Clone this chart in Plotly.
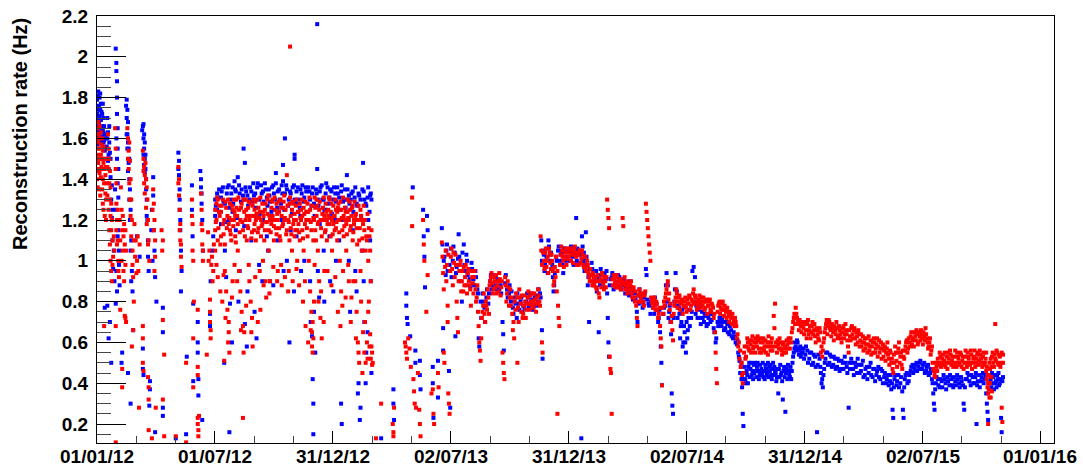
import pandas as pd
import plotly.graph_objects as go

START = pd.Timestamp("2012-01-01")

# (days since 01/01/12, reconstruction rate in Hz)
blue_2012_h1 = [
    (0, 1.72), (0, 1.64), (0, 1.79), (1, 1.81), (1, 1.69), (1, 1.6), (2, 1.83), (2, 1.74), (2, 1.66),
    (3, 1.76), (3, 1.68), (3, 1.58), (4, 1.8), (4, 1.71), (5, 1.74), (5, 1.63), (6, 1.69), (6, 1.77),
    (7, 1.65), (7, 1.57), (8, 1.72), (8, 1.61), (9, 1.64), (10, 1.58), (10, 1.7), (11, 1.66), (12, 1.54),
    (12, 1.62), (13, 1.6), (14, 1.5), (12, 0.77),
    (15, 1.56), (16, 1.7), (17, 1.63), (17, 1.49), (18, 1.45), (19, 1.58), (20, 1.53), (21, 1.41),
    (22, 1.3), (23, 1.21), (24, 1.1), (25, 0.96), (16, 0.78), (18, 0.62), (20, 0.7), (22, 0.5),
    (29, 2.04), (30, 1.97), (30, 1.93), (31, 1.88), (31, 1.8), (31, 1.72), (32, 1.65), (32, 1.55),
    (33, 1.45), (33, 1.31), (34, 1.2), (34, 1.05), (30, 0.95), (31, 0.85), (32, 1.12), (29, 0.79),
    (28, 1.35), (29, 1.25), (39, 0.55), (38, 0.5),
    (45, 1.76), (46, 1.79), (46, 1.7), (47, 1.74), (47, 1.62), (48, 1.68), (48, 1.58), (49, 1.55),
    (49, 1.48), (50, 1.5), (50, 1.4), (51, 1.35), (52, 1.25), (53, 1.1), (54, 0.95), (55, 0.85),
    (56, 0.66), (48, 0.45), (52, 0.3),
    (62, 1.12), (66, 1.02), (70, 1.64), (72, 1.67), (72, 1.6), (73, 1.62), (73, 1.55), (74, 1.58),
    (74, 1.5), (75, 1.52), (75, 1.45), (76, 1.4), (77, 1.3), (78, 1.2), (79, 1.1), (80, 0.95),
    (71, 0.57), (71, 0.47), (72, 0.44), (82, 0.41), (82, 0.37), (81, 0.29),
    (85, 1.25), (87, 1.32), (87, 1.41), (88, 1.15), (89, 1.05), (90, 0.92), (92, 0.8), (90, 0.16),
    (102, 0.77), (102, 0.65), (102, 0.28), (102, 0.24),
    (122, 0.13), (126, 1.53), (127, 1.49), (127, 1.42), (128, 1.35), (128, 1.25), (129, 1.15),
    (130, 1.05), (131, 0.95), (130, 0.85), (138, 0.15), (139, 0.53),
    (147, 1.37), (147, 1.25), (148, 1.12), (149, 0.41), (149, 0.79), (156, 0.7), (156, 0.6),
    (156, 0.55), (157, 0.42), (157, 0.34), (163, 0.22),
    (160, 1.44), (161, 1.4), (162, 1.33), (163, 1.2), (164, 1.05), (175, 0.74), (175, 0.68),
    (176, 0.9), (178, 1.05), (180, 1.12),
    (0, 1.57), (1, 1.75), (2, 1.61), (3, 1.71), (4, 1.64), (5, 1.82), (6, 1.59), (7, 1.73), (8, 1.66),
    (9, 1.77), (10, 1.63), (11, 1.59), (13, 1.55), (14, 1.62), (16, 1.6), (18, 1.52), (19, 1.66),
    (21, 1.5), (23, 1.37), (24, 1.25), (26, 1.05), (27, 0.9), (30, 1.6), (31, 1.5), (32, 1.38),
    (33, 1.15), (34, 0.98), (35, 0.88), (46, 1.62), (47, 1.55), (48, 1.44), (50, 1.3), (51, 1.2),
    (52, 1.05), (53, 0.9), (71, 1.66), (72, 1.52), (73, 1.47), (74, 1.43), (76, 1.35), (77, 1.22),
    (79, 1.02), (84, 1.15), (86, 1.0), (126, 1.45), (128, 1.3), (129, 1.2), (161, 1.36), (162, 1.28),
]

blue_2012_h2 = [
    (183, 1.3), (183, 1.22), (186, 1.33), (186, 1.25), (189, 1.35), (192, 1.31), (192, 1.18),
    (195, 1.36), (197, 0.5), (198, 1.28), (198, 1.05), (201, 1.33), (204, 1.37), (204, 1.2),
    (205, 0.16), (206, 0.79), (207, 1.3), (210, 1.36), (210, 1.24), (213, 1.39), (215, 1.34),
    (215, 1.15), (218, 1.41), (221, 1.33), (221, 0.95), (224, 1.35), (227, 1.55), (227, 1.3),
    (229, 1.48), (229, 0.69), (230, 1.36), (233, 1.32), (233, 0.85), (236, 1.3), (239, 1.34),
    (239, 1.1), (242, 1.38), (245, 1.33), (245, 1.22), (248, 1.36), (251, 1.3), (251, 0.98),
    (254, 1.37), (257, 1.34), (257, 1.2), (260, 1.38), (263, 1.31), (263, 1.12), (266, 1.35),
    (268, 1.29), (268, 0.9), (271, 1.36), (274, 1.33), (274, 1.25), (277, 1.38), (277, 1.43),
    (280, 1.34), (280, 1.1), (283, 1.3), (286, 1.37), (286, 1.2), (288, 1.47), (288, 1.39),
    (291, 1.6), (291, 1.33), (294, 1.35), (294, 1.0), (297, 1.3), (300, 1.33), (300, 1.15),
    (303, 1.36), (306, 1.52), (306, 1.5), (306, 1.3), (309, 1.34), (309, 1.12), (312, 1.3),
    (315, 1.35), (315, 1.22), (318, 1.37), (321, 1.31), (321, 1.0), (324, 1.34), (327, 1.36),
    (327, 1.2), (330, 1.3), (330, 0.9), (333, 1.33), (333, 0.63), (335, 0.3), (335, 0.15),
    (336, 1.28), (336, 0.75), (339, 1.35), (341, 1.45), (341, 2.16), (342, 1.3), (342, 0.95),
    (345, 1.34), (345, 1.18), (348, 1.37), (351, 1.3), (351, 1.05), (354, 1.33), (354, 1.25),
    (357, 1.36), (360, 1.31), (360, 1.12), (363, 1.34), (366, 1.3), (366, 0.85), (369, 1.33),
    (369, 1.2), (372, 1.36), (375, 1.31), (375, 1.1), (378, 1.34), (378, 0.3), (381, 1.29),
    (381, 1.2), (384, 1.35), (387, 1.42), (387, 1.3), (390, 1.32), (390, 1.0), (393, 1.3),
    (396, 1.34), (396, 1.15), (399, 1.31), (402, 1.28), (402, 0.85), (405, 1.33), (405, 0.4),
    (408, 1.3), (408, 0.28), (411, 1.35), (411, 1.05), (412, 1.48), (414, 1.3), (414, 0.7),
    (417, 1.27), (417, 0.55), (420, 1.36), (420, 1.2), (423, 1.32), (423, 1.1), (425, 1.3),
    (425, 0.45),
    (184, 1.27), (187, 1.31), (190, 1.24), (193, 1.34), (196, 1.29), (199, 1.19), (202, 1.36),
    (205, 1.26), (208, 1.33), (211, 1.28), (214, 1.35), (217, 1.21), (220, 1.37), (223, 1.29),
    (226, 1.32), (228, 1.17), (231, 1.34), (234, 1.27), (237, 1.36), (240, 1.29), (243, 1.32),
    (246, 1.26), (249, 1.38), (252, 1.23), (255, 1.33), (258, 1.29), (261, 1.35), (264, 1.27),
    (267, 1.32), (270, 1.24), (273, 1.37), (276, 1.3), (279, 1.26), (282, 1.35), (285, 1.28),
    (287, 1.33), (290, 1.25), (293, 1.37), (296, 1.27), (299, 1.34), (302, 1.23), (305, 1.37),
    (308, 1.28), (311, 1.36), (314, 1.26), (317, 1.33), (320, 1.29), (323, 1.36), (326, 1.24),
    (329, 1.34), (332, 1.27), (334, 1.36), (337, 1.22), (340, 1.33), (343, 1.27), (346, 1.36),
    (349, 1.3), (352, 1.25), (355, 1.38), (358, 1.28), (361, 1.35), (364, 1.23), (367, 1.36),
    (370, 1.29), (373, 1.33), (376, 1.25), (379, 1.37), (382, 1.3), (385, 1.26), (388, 1.35),
    (391, 1.28), (394, 1.33), (397, 1.24), (400, 1.36), (403, 1.27), (406, 1.32), (409, 1.22),
    (413, 1.34), (416, 1.28), (419, 1.31), (422, 1.24), (424, 1.33),
    (200, 0.92), (209, 0.6), (219, 0.8), (232, 0.58), (244, 0.75), (247, 0.62), (256, 0.9),
    (265, 1.05), (273, 0.88), (289, 0.95), (298, 0.6), (305, 0.85), (316, 0.95), (331, 0.7),
    (334, 0.42), (338, 0.55), (344, 0.82), (352, 0.8), (361, 0.9), (370, 1.0), (379, 0.2),
    (392, 0.75), (400, 0.95), (404, 0.35), (407, 0.22), (413, 0.9), (416, 0.4), (419, 0.65),
    (424, 0.9),
]

blue_2013 = [
    (440, 0.13), (459, 0.37), (459, 0.3), (460, 0.22),
    (479, 0.84), (479, 0.78), (480, 0.72), (481, 0.69), (485, 0.63), (489, 1.36), (493, 0.56),
    (493, 0.5), (500, 0.51), (500, 0.44), (501, 0.37), (505, 1.25), (506, 1.12), (507, 1.02),
    (508, 0.87), (511, 1.22), (512, 1.15), (520, 0.48), (520, 0.4), (521, 0.23), (528, 0.51),
    (528, 0.33),
    (534, 1.16), (535, 1.08), (536, 0.67), (536, 0.56), (538, 1.02), (541, 1.05), (543, 0.95),
    (545, 0.46), (547, 0.28), (548, 1.06), (551, 1.0), (554, 1.04), (555, 0.63), (557, 0.97),
    (560, 1.13), (561, 1.02), (564, 0.95), (565, 0.8), (568, 1.08), (569, 0.98), (572, 1.03),
    (574, 0.93), (576, 0.96), (578, 0.87), (580, 0.99), (583, 0.91), (586, 0.95), (589, 0.86),
    (591, 0.62), (592, 0.58), (594, 0.8), (597, 0.84), (600, 0.77), (603, 0.82), (606, 0.79),
    (609, 0.9), (611, 0.86), (614, 0.93), (617, 0.88), (620, 0.91), (623, 0.86), (626, 0.84),
    (628, 0.7), (629, 0.64), (632, 0.89), (635, 0.86), (638, 0.84), (641, 0.8), (644, 0.77),
    (647, 0.82), (650, 0.72), (653, 0.79), (656, 0.8), (659, 0.75), (662, 0.77), (665, 0.8),
    (668, 0.82), (671, 0.79), (674, 0.81), (677, 0.78), (680, 0.83), (683, 0.8), (686, 0.84),
    (688, 1.1), (689, 1.0), (689, 0.66), (690, 0.52), (692, 1.03), (694, 0.98), (697, 1.06),
    (699, 1.1), (701, 1.0), (703, 1.04), (706, 0.92), (708, 0.88), (711, 1.02), (714, 1.05),
    (717, 1.0), (720, 1.04), (722, 0.94), (725, 1.06), (728, 1.02),
    (537, 1.0), (540, 0.93), (542, 1.08), (546, 0.98), (549, 0.92), (552, 1.07), (556, 0.94),
    (559, 1.01), (562, 0.9), (566, 1.04), (570, 0.95), (573, 1.0), (577, 0.91), (581, 0.96),
    (584, 0.88), (587, 0.92), (590, 0.84), (595, 0.72), (598, 0.8), (601, 0.7), (604, 0.86),
    (607, 0.84), (610, 0.93), (613, 0.88), (616, 0.92), (619, 0.86), (622, 0.9), (625, 0.88),
    (630, 0.56), (633, 0.93), (636, 0.82), (639, 0.88), (642, 0.85), (645, 0.74), (648, 0.79),
    (651, 0.84), (654, 0.76), (657, 0.82), (660, 0.78), (663, 0.72), (666, 0.84), (669, 0.77),
    (672, 0.84), (675, 0.76), (678, 0.82), (681, 0.78), (684, 0.86), (687, 0.82), (691, 1.05),
    (693, 0.95), (696, 1.02), (698, 0.94), (700, 1.07), (702, 1.03), (705, 0.98), (707, 0.85),
    (709, 0.94), (712, 1.0), (715, 1.07), (718, 1.03), (721, 0.98), (723, 1.06), (726, 1.0),
    (729, 1.05),
]

blue_2014 = [
    (731, 1.05), (734, 1.07), (737, 1.02), (740, 1.06), (742, 1.21), (743, 1.0), (745, 1.05),
    (748, 1.03), (750, 0.13), (751, 1.12), (752, 1.07), (754, 1.04), (756, 1.0), (757, 1.14),
    (759, 0.98), (760, 0.88), (762, 0.7), (763, 0.96), (766, 0.99), (768, 0.94), (770, 0.9),
    (773, 0.95), (775, 0.92), (777, 0.65), (778, 0.93), (780, 0.96), (783, 0.9), (786, 0.94),
    (789, 0.95), (791, 0.72), (792, 0.6), (793, 0.53), (795, 0.91), (798, 0.94), (801, 0.92),
    (804, 0.89), (807, 0.93), (810, 0.9), (813, 0.88), (816, 0.91), (819, 0.87), (822, 0.86),
    (825, 0.9), (828, 0.84), (831, 0.85), (834, 0.81), (836, 0.75), (837, 0.7), (838, 0.83),
    (840, 0.86), (843, 0.82), (846, 0.79), (848, 0.84), (850, 0.96), (852, 0.81), (855, 0.78),
    (858, 0.8), (861, 0.77), (864, 0.82), (867, 0.76), (870, 0.72), (872, 0.65), (873, 0.58),
    (875, 0.39), (877, 0.74), (880, 0.78), (882, 0.94), (884, 0.88), (886, 0.75), (888, 0.7),
    (890, 0.35), (891, 0.29), (892, 0.25), (894, 0.8), (896, 0.94), (898, 0.85), (900, 0.78),
    (902, 0.74), (904, 0.68), (906, 0.76), (908, 0.6), (910, 0.65), (912, 0.55), (914, 0.62),
    (916, 0.72), (918, 0.68), (921, 0.75), (924, 0.97), (926, 0.92), (928, 0.78), (931, 0.76),
    (934, 0.72), (937, 0.75), (940, 0.7), (943, 0.73), (946, 0.69), (949, 0.74), (952, 0.71),
    (955, 0.67), (958, 0.6), (961, 0.7), (964, 0.72), (967, 0.68), (970, 0.7), (973, 0.67),
    (976, 0.69), (979, 0.64), (982, 0.66), (985, 0.62), (988, 0.63), (991, 0.59), (993, 0.55),
    (995, 0.51), (997, 0.48), (998, 0.42), (999, 0.38), (1000, 0.25), (1001, 0.19), (1002, 0.45),
    (1004, 0.42), (1006, 0.46), (1008, 0.4), (1010, 0.5), (1012, 0.47), (1014, 0.44), (1017, 0.49),
    (1020, 0.46), (1023, 0.5), (1026, 0.44), (1029, 0.47), (1032, 0.43), (1035, 0.49), (1038, 0.45),
    (1041, 0.48), (1044, 0.44), (1047, 0.5), (1050, 0.46), (1053, 0.43), (1055, 0.35), (1056, 0.47),
    (1059, 0.44), (1062, 0.32), (1064, 0.48), (1066, 0.26), (1067, 0.45), (1070, 0.49), (1073, 0.43),
    (1076, 0.46), (1079, 0.55), (1082, 0.58), (1085, 0.6), (1088, 0.56), (1091, 0.55),
    (732, 1.0), (735, 1.04), (738, 0.98), (741, 1.03), (744, 1.06), (747, 0.99), (749, 1.04),
    (753, 1.0), (755, 0.95), (758, 1.02), (761, 0.92), (764, 0.93), (767, 0.96), (769, 0.88),
    (772, 0.92), (774, 0.85), (776, 0.9), (779, 0.88), (782, 0.93), (785, 0.87), (788, 0.91),
    (790, 0.84), (794, 0.88), (797, 0.92), (800, 0.86), (803, 0.93), (806, 0.87), (809, 0.92),
    (812, 0.86), (815, 0.89), (818, 0.84), (821, 0.89), (824, 0.83), (827, 0.87), (830, 0.81),
    (833, 0.84), (839, 0.79), (842, 0.84), (845, 0.77), (847, 0.82), (851, 0.93), (854, 0.79),
    (857, 0.74), (860, 0.81), (863, 0.74), (866, 0.79), (869, 0.7), (871, 0.76), (874, 0.5),
    (878, 0.77), (881, 0.88), (883, 0.8), (885, 0.72), (887, 0.78), (889, 0.64), (893, 0.72),
    (895, 0.86), (897, 0.78), (899, 0.72), (901, 0.77), (903, 0.62), (905, 0.7), (907, 0.58),
    (909, 0.68), (911, 0.6), (913, 0.7), (915, 0.66), (917, 0.76), (920, 0.72), (922, 0.95),
    (925, 0.8), (927, 0.74), (930, 0.72), (932, 0.78), (935, 0.69), (938, 0.72), (941, 0.74),
    (944, 0.68), (947, 0.72), (950, 0.7), (953, 0.74), (956, 0.65), (959, 0.62), (962, 0.68),
    (965, 0.7), (968, 0.72), (971, 0.66), (974, 0.7), (977, 0.65), (980, 0.68), (983, 0.63),
    (986, 0.65), (989, 0.6), (992, 0.61), (994, 0.53), (996, 0.45), (998, 0.5), (1000, 0.42),
    (1003, 0.48), (1005, 0.4), (1007, 0.44), (1009, 0.48), (1011, 0.43), (1013, 0.5), (1015, 0.46),
    (1016, 0.42), (1018, 0.45), (1019, 0.5), (1021, 0.43), (1022, 0.48), (1024, 0.46), (1025, 0.42),
    (1027, 0.49), (1028, 0.45), (1030, 0.44), (1031, 0.5), (1033, 0.46), (1034, 0.42), (1036, 0.47),
    (1037, 0.44), (1039, 0.5), (1040, 0.43), (1042, 0.46), (1043, 0.49), (1045, 0.42), (1046, 0.47),
    (1048, 0.44), (1049, 0.48), (1051, 0.45), (1052, 0.41), (1054, 0.47), (1057, 0.43), (1058, 0.49),
    (1060, 0.45), (1061, 0.41), (1063, 0.46), (1065, 0.43), (1068, 0.47), (1069, 0.42), (1071, 0.46),
    (1072, 0.44), (1074, 0.48), (1075, 0.42), (1077, 0.5), (1078, 0.53), (1080, 0.57), (1081, 0.6),
    (1083, 0.56), (1084, 0.61), (1086, 0.57), (1087, 0.54), (1089, 0.58), (1090, 0.53), (1092, 0.57),
    (1093, 0.55),
]

blue_2015 = [
    (1094, 0.57), (1097, 0.54), (1100, 0.56), (1103, 0.52), (1106, 0.55), (1109, 0.5), (1112, 0.53),
    (1115, 0.16), (1116, 0.49), (1119, 0.52), (1121, 0.45), (1123, 0.42), (1124, 0.38), (1126, 0.47),
    (1128, 0.52), (1131, 0.55), (1134, 0.5), (1137, 0.53), (1140, 0.49), (1143, 0.52), (1146, 0.48),
    (1149, 0.51), (1152, 0.47), (1155, 0.5), (1158, 0.53), (1161, 0.48), (1164, 0.28), (1165, 0.5),
    (1168, 0.52), (1171, 0.47), (1174, 0.5), (1177, 0.45), (1180, 0.49), (1183, 0.46), (1186, 0.51),
    (1189, 0.44), (1192, 0.48), (1195, 0.45), (1198, 0.5), (1201, 0.43), (1204, 0.47), (1207, 0.44),
    (1210, 0.48), (1213, 0.42), (1216, 0.46), (1219, 0.43), (1222, 0.4), (1225, 0.44), (1228, 0.41),
    (1230, 0.37), (1232, 0.27), (1233, 0.23), (1235, 0.42), (1238, 0.39), (1241, 0.44), (1244, 0.4),
    (1247, 0.36), (1248, 0.27), (1249, 0.23), (1251, 0.42), (1254, 0.45), (1257, 0.41), (1260, 0.46),
    (1263, 0.49), (1266, 0.47), (1269, 0.5), (1272, 0.48), (1275, 0.51), (1278, 0.47), (1281, 0.5),
    (1284, 0.46), (1287, 0.49), (1290, 0.45), (1293, 0.42), (1295, 0.35), (1296, 0.3), (1297, 0.27),
    (1299, 0.4), (1302, 0.42), (1305, 0.38), (1308, 0.41), (1311, 0.44), (1314, 0.4), (1317, 0.43),
    (1320, 0.39), (1323, 0.42), (1326, 0.38), (1329, 0.41), (1332, 0.44), (1335, 0.4), (1338, 0.43),
    (1341, 0.39), (1342, 0.3), (1343, 0.27), (1345, 0.42), (1348, 0.45), (1351, 0.41), (1354, 0.44),
    (1357, 0.4), (1360, 0.43), (1362, 0.2), (1363, 0.39), (1366, 0.44), (1369, 0.41), (1372, 0.45),
    (1375, 0.42), (1377, 0.35), (1378, 0.3), (1379, 0.26), (1380, 0.22), (1381, 0.4), (1383, 0.44),
    (1385, 0.38), (1388, 0.43), (1391, 0.4), (1394, 0.44), (1397, 0.39), (1399, 0.42), (1400, 0.23),
    (1401, 0.16), (1402, 0.41),
    (1095, 0.52), (1098, 0.58), (1101, 0.5), (1104, 0.55), (1107, 0.49), (1110, 0.54), (1113, 0.48),
    (1117, 0.54), (1120, 0.48), (1122, 0.4), (1125, 0.44), (1127, 0.5), (1129, 0.55), (1132, 0.49),
    (1135, 0.54), (1138, 0.48), (1141, 0.53), (1144, 0.47), (1147, 0.52), (1150, 0.46), (1153, 0.51),
    (1156, 0.47), (1159, 0.5), (1162, 0.45), (1166, 0.47), (1169, 0.5), (1172, 0.44), (1175, 0.48),
    (1178, 0.52), (1181, 0.45), (1184, 0.49), (1187, 0.43), (1190, 0.47), (1193, 0.42), (1196, 0.48),
    (1199, 0.44), (1202, 0.47), (1205, 0.41), (1208, 0.46), (1211, 0.43), (1214, 0.47), (1217, 0.4),
    (1220, 0.45), (1223, 0.42), (1226, 0.39), (1229, 0.44), (1231, 0.4), (1234, 0.38), (1236, 0.44),
    (1239, 0.41), (1242, 0.38), (1245, 0.43), (1250, 0.38), (1252, 0.44), (1255, 0.4), (1258, 0.44),
    (1261, 0.48), (1264, 0.45), (1267, 0.49), (1270, 0.46), (1273, 0.5), (1276, 0.47), (1279, 0.49),
    (1282, 0.45), (1285, 0.48), (1288, 0.44), (1291, 0.47), (1294, 0.4), (1298, 0.37), (1300, 0.43),
    (1303, 0.39), (1306, 0.42), (1309, 0.38), (1312, 0.42), (1315, 0.37), (1318, 0.41), (1321, 0.44),
    (1324, 0.39), (1327, 0.43), (1330, 0.39), (1333, 0.42), (1336, 0.38), (1339, 0.41), (1344, 0.38),
    (1347, 0.42), (1350, 0.44), (1353, 0.39), (1356, 0.43), (1359, 0.4), (1361, 0.45), (1364, 0.41),
    (1367, 0.38), (1370, 0.43), (1373, 0.4), (1376, 0.44), (1382, 0.37), (1384, 0.42), (1386, 0.45),
    (1387, 0.4), (1389, 0.37), (1390, 0.44), (1392, 0.41), (1393, 0.38), (1395, 0.42), (1396, 0.45),
    (1398, 0.4), (1403, 0.43),
]

red_2012_h1 = [
    (0, 1.6), (0, 1.52), (0, 1.45), (1, 1.65), (1, 1.55), (2, 1.68), (2, 1.58), (2, 1.48), (3, 1.62),
    (3, 1.5), (4, 1.66), (4, 1.55), (4, 1.43), (5, 1.6), (5, 1.5), (6, 1.63), (6, 1.52), (6, 1.41),
    (7, 1.57), (7, 1.46), (8, 1.6), (8, 1.5), (9, 1.54), (9, 1.4), (10, 1.48), (10, 1.56), (11, 1.45),
    (11, 1.38), (12, 1.5), (13, 1.42), (13, 1.33), (14, 1.46), (14, 1.3), (15, 1.38), (11, 0.68),
    (17, 1.62), (18, 1.55), (18, 1.45), (19, 1.5), (19, 1.38), (20, 1.44), (20, 1.3), (21, 1.36),
    (21, 1.22), (22, 1.28), (22, 1.15), (23, 1.2), (24, 1.1), (25, 1.02), (23, 0.9),
    (28, 1.65), (29, 1.55), (29, 1.45), (30, 1.38), (30, 1.28), (31, 1.2), (32, 1.1), (33, 1.0),
    (34, 0.92), (29, 0.68), (29, 0.11), (36, 0.76),
    (37, 1.36), (38, 1.25), (39, 1.15), (40, 1.05), (41, 0.95), (42, 1.18), (43, 1.08), (44, 0.98),
    (39, 0.47), (39, 0.38), (43, 0.73), (44, 0.72), (45, 0.7),
    (47, 1.65), (48, 1.6), (49, 1.54), (50, 1.58), (51, 1.49), (52, 1.4), (53, 1.3), (54, 1.2),
    (55, 1.05), (56, 0.92), (54, 0.58), (56, 0.66), (57, 0.8),
    (58, 1.18), (60, 1.1), (62, 1.0), (64, 0.95), (66, 1.08), (65, 0.28),
    (71, 1.54), (72, 1.5), (73, 1.46), (74, 1.42), (75, 1.48), (76, 1.4), (77, 1.36), (78, 1.3),
    (79, 1.2), (80, 1.1), (81, 1.0), (71, 0.68), (71, 0.62), (71, 0.5), (72, 0.46), (79, 0.43),
    (80, 0.38), (80, 0.32), (80, 0.17), (85, 0.13), (91, 0.28),
    (87, 1.35), (88, 1.28), (89, 1.2), (90, 1.1), (89, 0.95),
    (100, 1.15), (102, 1.1), (102, 0.71), (104, 0.54), (102, 0.32), (104, 0.14), (122, 0.14),
    (126, 1.46), (127, 1.4), (127, 1.32), (128, 1.25), (129, 1.18), (129, 1.1), (130, 1.02),
    (131, 0.97), (138, 0.5), (138, 0.11),
    (147, 1.3), (148, 1.18), (148, 1.05), (149, 0.38), (149, 0.62), (150, 0.8), (156, 0.76),
    (156, 0.48), (156, 0.44), (156, 0.23), (156, 0.2), (157, 0.17), (157, 0.14), (158, 0.24),
    (161, 1.33), (162, 1.25), (163, 1.15), (164, 1.05), (164, 1.0), (170, 0.54),
    (172, 1.14), (174, 1.05), (175, 0.81), (175, 0.75), (175, 0.7), (176, 0.66), (176, 0.62),
    (177, 0.98), (179, 0.9), (181, 1.08),
    (0, 1.4), (1, 1.48), (1, 1.36), (3, 1.44), (3, 1.35), (5, 1.45), (5, 1.32), (7, 1.5), (8, 1.35),
    (9, 1.28), (10, 1.25), (12, 1.22), (14, 1.2), (16, 1.46), (16, 1.32), (17, 1.5), (18, 1.25),
    (19, 1.15), (20, 1.08), (21, 1.0), (22, 0.95), (24, 0.98), (26, 1.12), (27, 1.05), (30, 1.15),
    (31, 1.08), (32, 1.25), (33, 0.95), (35, 1.2), (36, 1.1), (38, 1.0), (40, 1.22), (41, 1.12),
    (42, 0.9), (44, 1.15), (45, 1.05), (48, 1.5), (49, 1.45), (50, 1.38), (51, 1.3), (52, 1.22),
    (53, 1.12), (55, 0.98), (57, 1.1), (59, 1.02), (61, 0.94), (63, 1.12), (72, 1.44), (73, 1.38),
    (74, 1.33), (76, 1.26), (77, 1.18), (79, 1.08), (86, 1.25), (88, 1.15), (90, 1.02), (101, 1.05),
    (126, 1.38), (128, 1.15), (130, 1.08), (147, 1.22), (149, 1.0), (162, 1.18), (163, 1.08),
    (173, 1.0), (178, 1.02), (180, 0.95),
]

red_2012_h2 = [
    (183, 1.25), (183, 1.15), (183, 1.05), (185, 1.28), (185, 1.2), (187, 1.3), (187, 1.1), (187, 0.92),
    (190, 1.22), (190, 1.27), (192, 1.24), (192, 1.12), (194, 0.8), (195, 1.3), (195, 1.18), (197, 0.51),
    (197, 1.2), (198, 1.08), (198, 0.95), (200, 1.26), (200, 0.85), (202, 0.76), (202, 1.22), (204, 1.18),
    (204, 0.7), (204, 0.65), (206, 1.28), (206, 1.15), (208, 1.2), (208, 1.1), (210, 1.25), (210, 0.9),
    (212, 1.3), (212, 1.2), (214, 1.22), (214, 1.12), (216, 1.26), (216, 1.3), (218, 1.18), (218, 1.05),
    (220, 1.25), (220, 0.95), (222, 1.2), (222, 0.85), (224, 1.28), (224, 0.75), (226, 1.15), (226, 0.23),
    (226, 0.68), (228, 1.24), (228, 0.65), (230, 1.3), (230, 1.2), (232, 1.1), (232, 1.22), (234, 1.26),
    (234, 1.16), (236, 1.2), (236, 0.9), (238, 1.28), (238, 0.8), (240, 1.14), (240, 0.72), (242, 1.22),
    (242, 1.3), (244, 1.25), (244, 1.18), (246, 1.2), (246, 1.1), (248, 1.3), (248, 1.22), (250, 1.16),
    (250, 1.26), (252, 1.24), (252, 0.95), (254, 1.2), (254, 1.12), (256, 1.28), (256, 1.18), (258, 1.22),
    (258, 0.88), (260, 1.25), (260, 1.15), (262, 1.19), (262, 0.82), (264, 1.3), (264, 1.23), (266, 1.15),
    (266, 1.05), (268, 0.9), (268, 1.2), (270, 1.26), (270, 1.18), (272, 1.22), (272, 1.3), (274, 1.17),
    (274, 1.1), (276, 1.25), (276, 1.2), (278, 1.28), (278, 1.13), (280, 1.2), (280, 0.95), (282, 1.24),
    (282, 1.16), (284, 1.3), (284, 1.1), (286, 1.22), (286, 0.88), (288, 1.26), (288, 1.18), (290, 1.2),
    (290, 1.32), (292, 1.25), (294, 1.42), (294, 1.15), (296, 1.2), (296, 0.85), (298, 1.28), (298, 1.1),
    (299, 2.05), (300, 1.22), (300, 1.16), (302, 1.25), (302, 1.05), (304, 1.18), (304, 1.28), (306, 1.23),
    (306, 1.12), (308, 1.27), (308, 1.2), (310, 1.15), (310, 1.0), (312, 1.24), (312, 1.18), (314, 1.28),
    (314, 1.1), (316, 1.2), (316, 1.25), (318, 1.22), (318, 1.15), (320, 1.26), (320, 1.05), (322, 1.18),
    (322, 0.9), (324, 1.24), (324, 1.2), (326, 1.28), (326, 1.12), (328, 1.2), (328, 1.0), (330, 1.25),
    (330, 0.85), (332, 1.15), (332, 0.75), (333, 0.65), (333, 0.58), (334, 0.55), (334, 0.7), (335, 0.62),
    (335, 1.1), (336, 1.2), (336, 0.8), (338, 1.26), (338, 1.15), (340, 1.22), (340, 1.3), (342, 1.18),
    (342, 1.05), (344, 1.25), (344, 0.9), (346, 1.2), (346, 0.72), (348, 0.62), (348, 1.12), (350, 1.26),
    (350, 1.2), (352, 1.22), (352, 0.95), (354, 1.28), (354, 1.15), (356, 1.2), (356, 1.1), (358, 1.25),
    (358, 1.22), (360, 1.18), (360, 1.3), (362, 1.24), (362, 1.12), (364, 1.2), (364, 1.05), (366, 1.27),
    (366, 1.18), (368, 1.22), (368, 1.15), (370, 1.16), (370, 1.25), (372, 1.24), (372, 1.1), (374, 1.28),
    (374, 1.2), (376, 1.2), (376, 1.0), (378, 1.25), (378, 0.85), (380, 1.15), (380, 0.78), (382, 1.22),
    (382, 1.12), (384, 1.26), (384, 1.2), (386, 1.18), (386, 1.05), (388, 1.24), (388, 1.3), (390, 1.2),
    (390, 0.9), (392, 1.25), (392, 1.15), (394, 1.22), (394, 0.82), (396, 1.27), (396, 1.1), (398, 1.18),
    (398, 1.2), (400, 1.22), (400, 0.9), (402, 1.16), (402, 0.75), (404, 1.2), (404, 0.6), (406, 1.1),
    (406, 0.5), (408, 1.25), (408, 0.95), (410, 1.2), (410, 1.05), (412, 1.18), (412, 0.65), (414, 1.15),
    (414, 0.55), (416, 1.05), (416, 0.5), (418, 1.1), (418, 0.6), (420, 1.0), (420, 0.75), (422, 1.12),
    (422, 0.58), (424, 0.9), (424, 0.52), (426, 0.55), (426, 0.49),
    (184, 1.19), (186, 1.31), (188, 1.16), (189, 1.24), (191, 1.08), (193, 1.27), (196, 1.13), (199, 1.29),
    (201, 1.16), (203, 1.3), (205, 1.21), (207, 1.13), (209, 1.27), (211, 1.17), (213, 1.24), (215, 1.09),
    (217, 1.22), (219, 1.31), (221, 1.14), (223, 1.26), (225, 1.19), (227, 1.3), (229, 1.12), (231, 1.25),
    (233, 1.17), (235, 1.29), (237, 1.22), (239, 1.11), (241, 1.27), (243, 1.15), (245, 1.29), (247, 1.23),
    (249, 1.14), (251, 1.21), (253, 1.31), (255, 1.17), (257, 1.24), (259, 1.1), (261, 1.28), (263, 1.19),
    (265, 1.32), (267, 1.22), (269, 1.14), (271, 1.29), (273, 1.2), (275, 1.31), (277, 1.16), (279, 1.23),
    (281, 1.29), (283, 1.12), (285, 1.26), (287, 1.17), (289, 1.29), (291, 1.21), (293, 1.13), (295, 1.27),
    (297, 1.19), (299, 1.31), (301, 1.13), (303, 1.29), (305, 1.2), (307, 1.15), (309, 1.3), (311, 1.24),
    (313, 1.14), (315, 1.21), (317, 1.3), (319, 1.11), (321, 1.23), (323, 1.29), (325, 1.16), (327, 1.24),
    (329, 1.31), (331, 1.19), (333, 1.27), (335, 1.21), (337, 1.31), (339, 1.1), (341, 1.27), (343, 1.19),
    (345, 1.29), (347, 1.16), (349, 1.23), (351, 1.31), (353, 1.14), (355, 1.24), (357, 1.18), (359, 1.31),
    (361, 1.21), (363, 1.28), (365, 1.13), (367, 1.22), (369, 1.3), (371, 1.19), (373, 1.26), (375, 1.14),
    (377, 1.29), (379, 1.21), (381, 1.31), (383, 1.17), (385, 1.24), (387, 1.13), (389, 1.21), (391, 1.29),
    (393, 1.17), (395, 1.26), (397, 1.14), (399, 1.29), (401, 1.23), (403, 1.08), (405, 1.27), (407, 1.16),
    (409, 1.22), (411, 1.11), (413, 1.27), (415, 1.2), (417, 1.12), (419, 1.23), (421, 1.16), (423, 1.05),
    (425, 1.15),
    (185, 0.98), (191, 0.85), (196, 0.93), (199, 0.72), (203, 0.6), (205, 0.55), (209, 0.82), (213, 0.98),
    (217, 0.9), (223, 0.66), (227, 0.55), (231, 0.78), (235, 0.98), (239, 0.65), (241, 0.58), (245, 0.92),
    (249, 0.7), (253, 0.76), (257, 1.0), (261, 0.9), (267, 0.84), (273, 0.97), (279, 0.9), (285, 0.98),
    (291, 0.92), (297, 0.95), (303, 0.9), (309, 0.96), (313, 0.88), (319, 0.8), (323, 0.68), (327, 0.6),
    (331, 0.66), (337, 0.98), (343, 0.8), (347, 0.85), (351, 0.7), (357, 0.95), (363, 0.88), (369, 0.92),
    (373, 0.75), (377, 0.68), (381, 0.95), (385, 0.82), (389, 0.98), (393, 0.7), (397, 0.9), (401, 0.62),
    (405, 0.55), (409, 0.8), (411, 0.45), (415, 0.7), (419, 0.52), (421, 0.8), (423, 0.64), (425, 0.58),
]

red_2013 = [
    (427, 0.5), (432, 0.13), (440, 0.3), (458, 0.2), (459, 0.16), (459, 0.14), (460, 0.28),
    (477, 0.6), (478, 0.58), (479, 0.55), (480, 0.52), (482, 0.62), (484, 0.57), (486, 0.48),
    (488, 1.31), (488, 1.17), (490, 0.42), (491, 0.36), (492, 0.3), (494, 0.28), (497, 0.45),
    (499, 0.27), (500, 0.2), (501, 0.14), (505, 1.2), (506, 1.08), (507, 1.0), (510, 0.75),
    (512, 0.93), (518, 0.35), (520, 0.37), (521, 0.25), (522, 0.2), (528, 0.45), (529, 0.38),
    (534, 1.09), (535, 1.02), (536, 0.94), (537, 0.86), (537, 0.55), (538, 0.5), (540, 1.05),
    (542, 0.98), (543, 0.78), (543, 0.7), (544, 0.35), (545, 0.3), (546, 0.25), (548, 1.02),
    (550, 0.96), (552, 1.04), (554, 0.92), (556, 0.98), (557, 0.8), (558, 0.72), (559, 0.65),
    (561, 0.95), (563, 1.0), (565, 0.9), (567, 0.85), (568, 0.97), (570, 0.92), (572, 0.88),
    (574, 0.94), (576, 0.9), (578, 0.86), (579, 0.78), (580, 0.95), (582, 0.89), (584, 0.92),
    (586, 0.86), (588, 0.82), (590, 0.75), (591, 0.68), (592, 0.6), (593, 0.56), (594, 0.51),
    (596, 0.72), (598, 0.78), (600, 0.74), (602, 0.8), (604, 0.76), (606, 0.82), (608, 0.88),
    (610, 0.92), (612, 0.89), (614, 0.86), (616, 0.9), (618, 0.93), (620, 0.88), (622, 0.85),
    (624, 0.91), (626, 0.87), (628, 0.55), (629, 0.5), (630, 0.45), (631, 0.42), (633, 0.88),
    (635, 0.84), (637, 0.87), (639, 0.82), (641, 0.78), (643, 0.74), (645, 0.7), (647, 0.8),
    (649, 0.84), (651, 0.5), (652, 0.77), (655, 0.82), (657, 0.75), (659, 0.72), (661, 0.78),
    (663, 0.8), (665, 0.76), (667, 0.82), (669, 0.79), (671, 0.83), (673, 0.78), (675, 0.8),
    (677, 0.84), (679, 0.79), (681, 0.82), (683, 0.86), (685, 0.8), (687, 1.12), (688, 1.05),
    (689, 0.98), (689, 0.6), (690, 0.55), (692, 1.0), (694, 1.04), (696, 0.97), (698, 1.02),
    (700, 1.06), (702, 0.99), (704, 1.03), (706, 0.95), (708, 0.9), (710, 0.92), (712, 0.85),
    (713, 0.25), (714, 0.78), (715, 0.72), (716, 0.68), (718, 1.03), (720, 1.05), (722, 1.0),
    (724, 1.02), (726, 1.06), (728, 1.01),
    (539, 0.97), (541, 0.9), (544, 1.03), (547, 0.95), (549, 1.06), (551, 0.88), (553, 0.99),
    (555, 1.03), (560, 0.9), (562, 0.98), (564, 0.85), (566, 0.95), (569, 0.88), (571, 0.98),
    (573, 0.84), (575, 0.96), (577, 0.88), (581, 0.92), (583, 0.84), (585, 0.95), (587, 0.8),
    (589, 0.88), (595, 0.62), (597, 0.75), (599, 0.84), (601, 0.7), (603, 0.78), (605, 0.86),
    (607, 0.74), (609, 0.9), (611, 0.94), (613, 0.84), (615, 0.92), (617, 0.87), (619, 0.84),
    (621, 0.9), (623, 0.94), (625, 0.83), (627, 0.9), (632, 0.92), (634, 0.8), (636, 0.9),
    (638, 0.78), (640, 0.86), (642, 0.82), (644, 0.66), (646, 0.62), (648, 0.76), (650, 0.82),
    (653, 0.7), (654, 0.86), (656, 0.79), (658, 0.83), (660, 0.74), (662, 0.83), (664, 0.72),
    (666, 0.79), (668, 0.85), (670, 0.76), (672, 0.8), (674, 0.84), (676, 0.77), (678, 0.81),
    (680, 0.75), (682, 0.79), (684, 0.83), (686, 0.78), (691, 1.04), (693, 0.96), (695, 1.06),
    (697, 1.0), (699, 0.94), (701, 1.04), (703, 0.96), (705, 1.0), (707, 0.88), (709, 0.97),
    (711, 1.02), (713, 0.95), (717, 0.98), (719, 1.07), (721, 1.02), (723, 0.97), (725, 1.04),
    (727, 0.98), (729, 1.06),
]

red_2014 = [
    (730, 1.04), (732, 1.06), (734, 1.0), (736, 1.05), (738, 1.03), (740, 1.07), (742, 1.02),
    (744, 1.04), (746, 0.98), (748, 1.05), (750, 1.01), (752, 1.03), (754, 0.97), (756, 1.02),
    (758, 0.95), (760, 0.98), (762, 0.92), (764, 0.96), (766, 0.9), (768, 0.94), (770, 0.88),
    (772, 0.92), (774, 0.86), (776, 0.9), (778, 0.82), (780, 0.91), (782, 0.94), (784, 0.89),
    (786, 0.92), (788, 0.87), (790, 1.3), (791, 1.25), (792, 1.21), (793, 1.16), (794, 0.53),
    (795, 0.47), (796, 0.45), (797, 0.25), (798, 0.91), (800, 0.93), (802, 0.89), (804, 0.92),
    (806, 0.9), (808, 0.87), (810, 0.91), (812, 0.88), (814, 1.21), (815, 1.17), (816, 0.89),
    (818, 0.86), (820, 0.9), (822, 0.87), (824, 0.85), (826, 0.88), (828, 0.84), (830, 0.86),
    (832, 0.82), (834, 0.85), (836, 0.72), (837, 0.68), (838, 0.83), (840, 0.86), (842, 0.82),
    (844, 0.84), (846, 0.8), (848, 0.83), (850, 1.28), (851, 1.24), (852, 1.2), (853, 1.16),
    (854, 1.12), (855, 1.08), (856, 1.04), (857, 1.0), (858, 0.82), (860, 0.79), (862, 0.81),
    (864, 0.78), (866, 0.8), (868, 0.76), (870, 0.74), (872, 0.68), (873, 0.62), (874, 0.58),
    (875, 0.39), (876, 0.77), (878, 0.8), (880, 0.82), (882, 0.86), (884, 0.9), (886, 0.84),
    (888, 0.79), (890, 0.73), (891, 0.66), (892, 0.61), (894, 0.78), (896, 0.82), (898, 0.84),
    (900, 0.8), (902, 0.83), (904, 0.79), (906, 0.81), (908, 0.78), (910, 0.8), (912, 0.77),
    (914, 0.81), (916, 0.79), (918, 0.82), (920, 0.78), (922, 0.8), (924, 0.86), (926, 0.83),
    (928, 0.8), (930, 0.78), (932, 0.81), (934, 0.79), (936, 0.82), (938, 0.78), (940, 0.8),
    (942, 0.77), (944, 0.81), (946, 0.78), (948, 0.8), (950, 0.76), (952, 0.79), (954, 0.77),
    (956, 0.74), (957, 0.65), (958, 0.55), (959, 0.47), (960, 0.4), (962, 0.78), (964, 0.8),
    (966, 0.77), (968, 0.79), (970, 0.76), (972, 0.78), (974, 0.75), (976, 0.77), (978, 0.73),
    (980, 0.75), (982, 0.72), (984, 0.74), (986, 0.7), (988, 0.72), (990, 0.68), (992, 0.64),
    (994, 0.6), (996, 0.56), (998, 0.5), (999, 0.44), (1000, 0.4), (1002, 0.55), (1004, 0.52),
    (1006, 0.58), (1008, 0.6), (1010, 0.56), (1012, 0.59), (1014, 0.61), (1016, 0.57), (1018, 0.6),
    (1020, 0.62), (1022, 0.58), (1024, 0.61), (1026, 0.55), (1028, 0.6), (1030, 0.57), (1032, 0.62),
    (1034, 0.58), (1036, 0.55), (1038, 0.6), (1040, 0.63), (1042, 0.58), (1044, 0.6), (1046, 0.56),
    (1048, 0.73), (1049, 0.67), (1050, 0.79), (1052, 0.58), (1054, 0.61), (1056, 0.57), (1058, 0.6),
    (1060, 0.56), (1062, 0.59), (1064, 0.55), (1066, 0.58), (1068, 0.61), (1070, 0.57), (1072, 0.6),
    (1074, 0.62), (1076, 0.65), (1078, 0.7), (1080, 0.74), (1082, 0.77), (1084, 0.72), (1086, 0.69),
    (1088, 0.71), (1090, 0.68), (1092, 0.7),
    (731, 1.02), (733, 1.06), (735, 1.03), (737, 0.99), (739, 1.06), (741, 1.04), (743, 0.98),
    (745, 1.03), (747, 1.05), (749, 0.99), (751, 1.05), (753, 0.98), (755, 1.02), (757, 0.96),
    (759, 1.0), (761, 0.94), (763, 0.9), (765, 0.93), (767, 0.88), (769, 0.92), (771, 0.9),
    (773, 0.87), (775, 0.93), (777, 0.84), (779, 0.9), (781, 0.87), (783, 0.93), (785, 0.86),
    (787, 0.9), (789, 0.92), (799, 0.88), (801, 0.91), (803, 0.87), (805, 0.93), (807, 0.88),
    (809, 0.9), (811, 0.86), (813, 0.9), (817, 0.92), (819, 0.88), (821, 0.84), (823, 0.89),
    (825, 0.86), (827, 0.9), (829, 0.82), (831, 0.87), (833, 0.8), (835, 0.78), (839, 0.8),
    (841, 0.84), (843, 0.8), (845, 0.83), (847, 0.78), (849, 0.85), (859, 0.8), (861, 0.77),
    (863, 0.82), (865, 0.76), (867, 0.79), (869, 0.72), (871, 0.77), (877, 0.74), (879, 0.78),
    (881, 0.84), (883, 0.88), (885, 0.81), (887, 0.76), (889, 0.7), (893, 0.74), (895, 0.8),
    (897, 0.86), (899, 0.77), (901, 0.82), (903, 0.76), (905, 0.8), (907, 0.74), (909, 0.78),
    (911, 0.82), (913, 0.75), (915, 0.79), (917, 0.83), (919, 0.76), (921, 0.81), (923, 0.84),
    (925, 0.79), (927, 0.82), (929, 0.76), (931, 0.8), (933, 0.83), (935, 0.77), (937, 0.8),
    (939, 0.82), (941, 0.76), (943, 0.8), (945, 0.74), (947, 0.78), (949, 0.81), (951, 0.75),
    (953, 0.78), (955, 0.72), (961, 0.75), (963, 0.79), (965, 0.74), (967, 0.76), (969, 0.8),
    (971, 0.73), (973, 0.76), (975, 0.72), (977, 0.75), (979, 0.7), (981, 0.74), (983, 0.69),
    (985, 0.72), (987, 0.68), (989, 0.7), (991, 0.62), (993, 0.58), (995, 0.52), (997, 0.48),
    (1001, 0.45), (1003, 0.58), (1005, 0.53), (1007, 0.62), (1009, 0.57), (1011, 0.61), (1013, 0.55),
    (1015, 0.63), (1017, 0.58), (1019, 0.55), (1021, 0.6), (1023, 0.63), (1025, 0.57), (1027, 0.62),
    (1029, 0.55), (1031, 0.6), (1033, 0.56), (1035, 0.61), (1037, 0.58), (1039, 0.54), (1041, 0.6),
    (1043, 0.56), (1045, 0.62), (1047, 0.58), (1051, 0.6), (1053, 0.55), (1055, 0.59), (1057, 0.62),
    (1059, 0.57), (1061, 0.54), (1063, 0.6), (1065, 0.57), (1067, 0.55), (1069, 0.59), (1071, 0.62),
    (1073, 0.57), (1075, 0.6), (1077, 0.67), (1079, 0.72), (1081, 0.69), (1083, 0.74), (1085, 0.7),
    (1087, 0.66), (1089, 0.7), (1091, 0.65), (1093, 0.68),
]

red_2015 = [
    (1094, 0.67), (1096, 0.7), (1098, 0.66), (1100, 0.69), (1102, 0.64), (1104, 0.68), (1106, 0.65),
    (1108, 0.7), (1110, 0.66), (1112, 0.63), (1114, 0.67), (1116, 0.64), (1118, 0.61), (1120, 0.65),
    (1122, 0.58), (1123, 0.53), (1124, 0.56), (1126, 0.62), (1128, 0.67), (1130, 0.71), (1132, 0.68),
    (1134, 0.7), (1136, 0.66), (1138, 0.69), (1140, 0.65), (1142, 0.68), (1144, 0.64), (1146, 0.67),
    (1148, 0.63), (1150, 0.66), (1152, 0.62), (1154, 0.65), (1156, 0.68), (1158, 0.64), (1160, 0.66),
    (1162, 0.61), (1164, 0.55), (1166, 0.63), (1168, 0.67), (1170, 0.64), (1172, 0.66), (1174, 0.62),
    (1176, 0.65), (1178, 0.6), (1180, 0.64), (1182, 0.61), (1184, 0.58), (1186, 0.63), (1188, 0.6),
    (1190, 0.57), (1192, 0.62), (1194, 0.59), (1196, 0.56), (1198, 0.61), (1200, 0.58), (1202, 0.55),
    (1204, 0.6), (1206, 0.57), (1208, 0.62), (1210, 0.58), (1212, 0.55), (1214, 0.6), (1216, 0.57),
    (1218, 0.53), (1220, 0.58), (1222, 0.55), (1224, 0.6), (1226, 0.52), (1228, 0.56), (1230, 0.5),
    (1232, 0.47), (1234, 0.54), (1236, 0.58), (1238, 0.51), (1240, 0.55), (1242, 0.6), (1244, 0.53),
    (1246, 0.49), (1248, 0.56), (1250, 0.52), (1252, 0.58), (1254, 0.61), (1256, 0.57), (1258, 0.6),
    (1260, 0.63), (1262, 0.59), (1264, 0.62), (1266, 0.65), (1268, 0.61), (1270, 0.64), (1272, 0.6),
    (1274, 0.63), (1276, 0.66), (1278, 0.62), (1280, 0.65), (1282, 0.61), (1284, 0.64), (1286, 0.6),
    (1288, 0.58), (1290, 0.62), (1292, 0.56), (1294, 0.5), (1296, 0.46), (1298, 0.43), (1300, 0.48),
    (1302, 0.52), (1304, 0.49), (1306, 0.53), (1308, 0.5), (1310, 0.54), (1312, 0.51), (1314, 0.48),
    (1316, 0.53), (1318, 0.55), (1320, 0.5), (1322, 0.54), (1324, 0.51), (1326, 0.48), (1328, 0.53),
    (1330, 0.5), (1332, 0.55), (1334, 0.52), (1336, 0.49), (1338, 0.54), (1340, 0.51), (1342, 0.47),
    (1344, 0.53), (1346, 0.5), (1348, 0.55), (1350, 0.52), (1352, 0.49), (1354, 0.54), (1356, 0.5),
    (1358, 0.53), (1360, 0.48), (1362, 0.52), (1364, 0.55), (1366, 0.51), (1368, 0.54), (1370, 0.5),
    (1372, 0.53), (1374, 0.49), (1376, 0.52), (1377, 0.46), (1378, 0.42), (1379, 0.38), (1380, 0.35),
    (1380, 0.2), (1381, 0.44), (1382, 0.5), (1383, 0.4), (1384, 0.33), (1385, 0.48), (1386, 0.53),
    (1388, 0.5), (1390, 0.54), (1391, 0.69), (1392, 0.51), (1394, 0.55), (1396, 0.49), (1398, 0.53),
    (1400, 0.5), (1401, 0.28), (1402, 0.21), (1403, 0.54),
    (1095, 0.64), (1097, 0.69), (1099, 0.62), (1101, 0.71), (1103, 0.66), (1105, 0.62), (1107, 0.68),
    (1109, 0.64), (1111, 0.69), (1113, 0.6), (1115, 0.66), (1117, 0.62), (1119, 0.67), (1121, 0.55),
    (1125, 0.6), (1127, 0.65), (1129, 0.69), (1131, 0.64), (1133, 0.71), (1135, 0.67), (1137, 0.63),
    (1139, 0.67), (1141, 0.61), (1143, 0.66), (1145, 0.7), (1147, 0.62), (1149, 0.68), (1151, 0.64),
    (1153, 0.6), (1155, 0.67), (1157, 0.62), (1159, 0.69), (1161, 0.64), (1163, 0.58), (1165, 0.66),
    (1167, 0.61), (1169, 0.68), (1171, 0.62), (1173, 0.67), (1175, 0.59), (1177, 0.63), (1179, 0.66),
    (1181, 0.58), (1183, 0.64), (1185, 0.6), (1187, 0.56), (1189, 0.62), (1191, 0.59), (1193, 0.55),
    (1195, 0.63), (1197, 0.58), (1199, 0.54), (1201, 0.6), (1203, 0.62), (1205, 0.55), (1207, 0.59),
    (1209, 0.53), (1211, 0.61), (1213, 0.57), (1215, 0.52), (1217, 0.59), (1219, 0.56), (1221, 0.51),
    (1223, 0.57), (1225, 0.54), (1227, 0.49), (1229, 0.55), (1231, 0.52), (1233, 0.45), (1235, 0.5),
    (1237, 0.55), (1239, 0.48), (1241, 0.57), (1243, 0.5), (1245, 0.55), (1247, 0.47), (1249, 0.53),
    (1251, 0.56), (1253, 0.6), (1255, 0.55), (1257, 0.62), (1259, 0.58), (1261, 0.65), (1263, 0.61),
    (1265, 0.58), (1267, 0.63), (1269, 0.66), (1271, 0.59), (1273, 0.65), (1275, 0.61), (1277, 0.64),
    (1279, 0.59), (1281, 0.63), (1283, 0.67), (1285, 0.62), (1287, 0.57), (1289, 0.6), (1291, 0.54),
    (1293, 0.58), (1295, 0.47), (1297, 0.44), (1299, 0.5), (1301, 0.46), (1303, 0.5), (1305, 0.55),
    (1307, 0.48), (1309, 0.52), (1311, 0.49), (1313, 0.55), (1315, 0.5), (1317, 0.47), (1319, 0.52),
    (1321, 0.56), (1323, 0.49), (1325, 0.53), (1327, 0.5), (1329, 0.56), (1331, 0.48), (1333, 0.53),
    (1335, 0.5), (1337, 0.55), (1339, 0.48), (1341, 0.53), (1343, 0.5), (1345, 0.56), (1347, 0.48),
    (1349, 0.53), (1351, 0.5), (1353, 0.56), (1355, 0.47), (1357, 0.52), (1359, 0.56), (1361, 0.5),
    (1363, 0.54), (1365, 0.49), (1367, 0.56), (1369, 0.52), (1371, 0.48), (1373, 0.55), (1375, 0.5),
    (1377, 0.55), (1378, 0.48), (1379, 0.44), (1380, 0.4), (1381, 0.37), (1382, 0.33), (1383, 0.47),
    (1384, 0.52), (1385, 0.43), (1386, 0.36), (1387, 0.55), (1389, 0.48), (1391, 0.52), (1393, 0.56),
    (1395, 0.5), (1397, 0.54), (1399, 0.48), (1401, 0.55), (1403, 0.5),
]

x_tick_labels = ["01/01/12", "01/07/12", "31/12/12", "02/07/13", "31/12/13",
                 "02/07/14", "31/12/14", "02/07/15", "01/01/16"]
y_tick_values = [0.2, 0.4, 0.6, 0.8, 1.0, 1.2, 1.4, 1.6, 1.8, 2.0, 2.2]
y_tick_labels = ["0.2", "0.4", "0.6", "0.8", "1", "1.2", "1.4", "1.6", "1.8", "2", "2.2"]

TICK_STEP_DAYS = 182.625  # time-axis division: 8 divisions over 4 years


def to_xy(*segments):
    points = [p for seg in segments for p in seg]
    days = [d for d, _ in points]
    rates = [r for _, r in points]
    return START + pd.to_timedelta(days, unit="D"), rates


bx, by = to_xy(blue_2012_h1, blue_2012_h2, blue_2013, blue_2014, blue_2015)
rx, ry = to_xy(red_2012_h1, red_2012_h2, red_2013, red_2014, red_2015)

tick_dates = [START + pd.Timedelta(days=TICK_STEP_DAYS * i) for i in range(len(x_tick_labels))]

fig = go.Figure()
fig.add_trace(go.Scatter(x=bx, y=by, mode="markers",
                         marker=dict(symbol="square", size=4, color="#0000ff", line=dict(width=0))))
fig.add_trace(go.Scatter(x=rx, y=ry, mode="markers",
                         marker=dict(symbol="square", size=4, color="#ff0000", line=dict(width=0))))

font = dict(family="Liberation Sans, Arial, sans-serif", size=19, color="black", weight="bold")

fig.update_layout(
    width=1083, height=468,
    margin=dict(l=97, r=29, t=16, b=25),
    paper_bgcolor="white", plot_bgcolor="white",
    showlegend=False,
    font=font,
    xaxis=dict(
        type="date", automargin=False,
        range=[START, START + pd.Timedelta(days=1482)],
        tickmode="array", tickvals=tick_dates, showticklabels=False,
        ticks="inside", ticklen=12, tickcolor="black", tickwidth=1,
        minor=dict(ticks="inside", ticklen=7, tickcolor="#444", tick0=START,
                   dtick=TICK_STEP_DAYS / 3 * 86400000),
        showgrid=False, zeroline=False,
        showline=True, linecolor="black", linewidth=1, mirror=True,
    ),
    yaxis=dict(
        automargin=False,
        range=[0.107, 2.2],
        tickmode="array", tickvals=y_tick_values, ticktext=y_tick_labels,
        ticks="inside", ticklen=29, tickcolor="black", tickwidth=1,
        minor=dict(ticks="inside", ticklen=14, tickcolor="#444", tick0=0.2, dtick=0.05),
        showgrid=False, zeroline=False,
        showline=True, linecolor="black", linewidth=1, mirror=True,
        tickfont=font, ticklabelstandoff=4,
    ),
)

# time-axis labels placed just under the frame at each major tick
for when, label in zip(tick_dates, x_tick_labels):
    fig.add_annotation(
        text=label, x=when, xref="x", y=0, yref="paper", yshift=-1,
        xanchor="center", yanchor="top", showarrow=False, font=font,
    )

fig.add_annotation(
    text="Reconstruction rate (Hz)", textangle=-90,
    xref="paper", yref="paper", x=0, y=1, xshift=-77,
    xanchor="center", yanchor="top", showarrow=False,
    font=dict(family="Liberation Sans, Arial, sans-serif", size=20, color="black", weight="bold"),
)

fig.write_html("out.html")
